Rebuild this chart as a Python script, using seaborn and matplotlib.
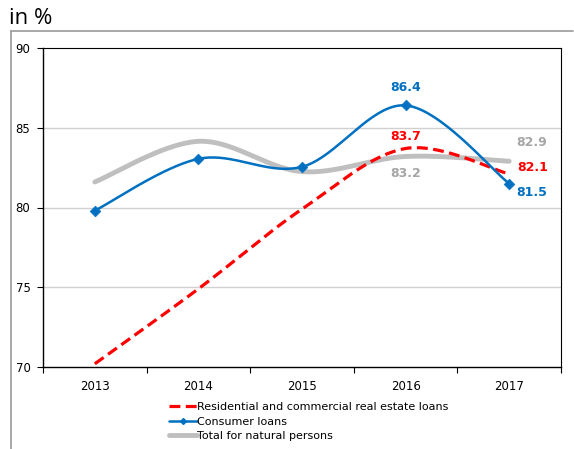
import numpy as np
import pandas as pd
import matplotlib
matplotlib.use("Agg")
import matplotlib.pyplot as plt
import seaborn as sns
from matplotlib.lines import Line2D

years = ["2013", "2014", "2015", "2016", "2017"]
real_estate = [70.2, 74.9, 79.9, 83.7, 82.1]
consumer = [79.8, 83.05, 82.55, 86.4, 81.5]
total = [81.6, 84.15, 82.25, 83.2, 82.9]
series_names = ["Residential and commercial real estate loans", "Consumer loans", "Total for natural persons"]
colors = ["#FF0000", "#0070C0", "#BFBFBF"]


def catmull_rom(y, n=40):
    y = np.asarray(y, float)
    x = np.arange(len(y), dtype=float)
    pts = np.column_stack([x, y])
    P = np.vstack([pts[0], pts, pts[-1]])
    out = []
    for i in range(1, len(P) - 2):
        p0, p1, p2, p3 = P[i - 1], P[i], P[i + 1], P[i + 2]
        t = np.linspace(0, 1, n, endpoint=(i == len(P) - 3))[:, None]
        seg = 0.5 * ((2 * p1) + (-p0 + p2) * t + (2 * p0 - 5 * p1 + 4 * p2 - p3) * t ** 2
                     + (-p0 + 3 * p1 - 3 * p2 + p3) * t ** 3)
        out.append(seg)
    out = np.vstack(out)
    return out[:, 0], out[:, 1]


sns.set_theme(style="white")
plt.rcParams['font.family'] = ['DejaVu Sans']
plt.rcParams['text.color'] = 'black'
plt.rcParams['xtick.color'] = 'black'
plt.rcParams['ytick.color'] = 'black'

fig = plt.figure(figsize=(5.74, 4.49), dpi=100)
ax = fig.add_axes([43 / 574, 1 - 367 / 449, (561 - 43) / 574, (367 - 48) / 449])

frames = []
for name, vals in zip(series_names, [real_estate, consumer, total]):
    sx, sy = catmull_rom(vals)
    frames.append(pd.DataFrame({"x": sx, "y": sy, "series": name}))
df = pd.concat(frames)

dash = (0, (3.4, 1.7))
sns.lineplot(data=df[df.series == series_names[2]], x="x", y="y", color=colors[2],
             lw=3.5, ax=ax, sort=False, legend=False)
sns.lineplot(data=df[df.series == series_names[0]], x="x", y="y", color=colors[0],
             lw=2.3, ax=ax, sort=False, legend=False, linestyle=dash)
sns.lineplot(data=df[df.series == series_names[1]], x="x", y="y", color=colors[1],
             lw=1.8, ax=ax, sort=False, legend=False)
pts = pd.DataFrame({"x": np.arange(len(years)), "y": consumer})
sns.scatterplot(data=pts, x="x", y="y", marker="D", s=30, color=colors[1], edgecolor=colors[1],
                ax=ax, legend=False, zorder=5)

ax.set_xlim(-0.5, len(years) - 0.5)
ax.set_ylim(70, 90)
ax.set_yticks([70, 75, 80, 85, 90])
ax.set_yticklabels(["70", "75", "80", "85", "90"], fontsize=8.5)
ax.set_xticks(np.arange(len(years)))
ax.set_xticklabels(years, fontsize=8.5)
ax.set_xticks(np.arange(-0.5, len(years)), minor=True)
ax.tick_params(axis="x", which="major", length=0, pad=9)
ax.tick_params(axis="x", which="minor", length=4, width=0.8, color="black", direction="out", bottom=True)
ax.tick_params(axis="y", length=4, width=0.8, color="black", direction="out", left=True, pad=5)
ax.set_xlabel("")
ax.set_ylabel("")
for y in [75, 80, 85]:
    ax.axhline(y, color="#D0D0D0", lw=1.0, zorder=0)
for side in ["top", "right"]:
    ax.spines[side].set_color("black")
    ax.spines[side].set_linewidth(0.8)
for side in ["left", "bottom"]:
    ax.spines[side].set_color("black")
    ax.spines[side].set_linewidth(1.0)

# value labels
lab = dict(fontsize=9, fontweight="bold", ha="center", va="center")
ax.text(3, 87.55, f"{consumer[3]:.1f}", color=colors[1], **lab)
ax.text(3, 84.45, f"{real_estate[3]:.1f}", color=colors[0], **lab)
ax.text(3, 82.15, f"{total[3]:.1f}", color="#A6A6A6", **lab)
ax.text(4.22, 84.05, f"{total[4]:.1f}", color="#A6A6A6", **lab)
ax.text(4.23, 82.5, f"{real_estate[4]:.1f}", color=colors[0], **lab)
ax.text(4.22, 80.95, f"{consumer[4]:.1f}", color=colors[1], **lab)

handles = [
    Line2D([], [], color=colors[0], lw=2.3, linestyle=dash),
    Line2D([], [], color=colors[1], lw=1.8, marker="D", markersize=3),
    Line2D([], [], color=colors[2], lw=3.5),
]
fig.legend(handles, series_names, loc="upper left", bbox_to_anchor=(169 / 574, 1 - 402 / 449),
           frameon=False, fontsize=8, handlelength=2.5, handletextpad=0.0, labelspacing=0.42,
           borderpad=0, borderaxespad=0)

# outer frame lines and heading
fig.add_artist(Line2D([11 / 574, 573 / 574], [1 - 31 / 449, 1 - 31 / 449], color="#999999", lw=1.2))
fig.add_artist(Line2D([11 / 574, 11 / 574], [1 - 31 / 449, 0], color="#999999", lw=1.2))
fig.text(9 / 574, 1 - 18 / 449, "in %", fontsize=16, family="Open Sans", va="center", ha="left",
         color="black")

fig.savefig("out.png", dpi=100)
